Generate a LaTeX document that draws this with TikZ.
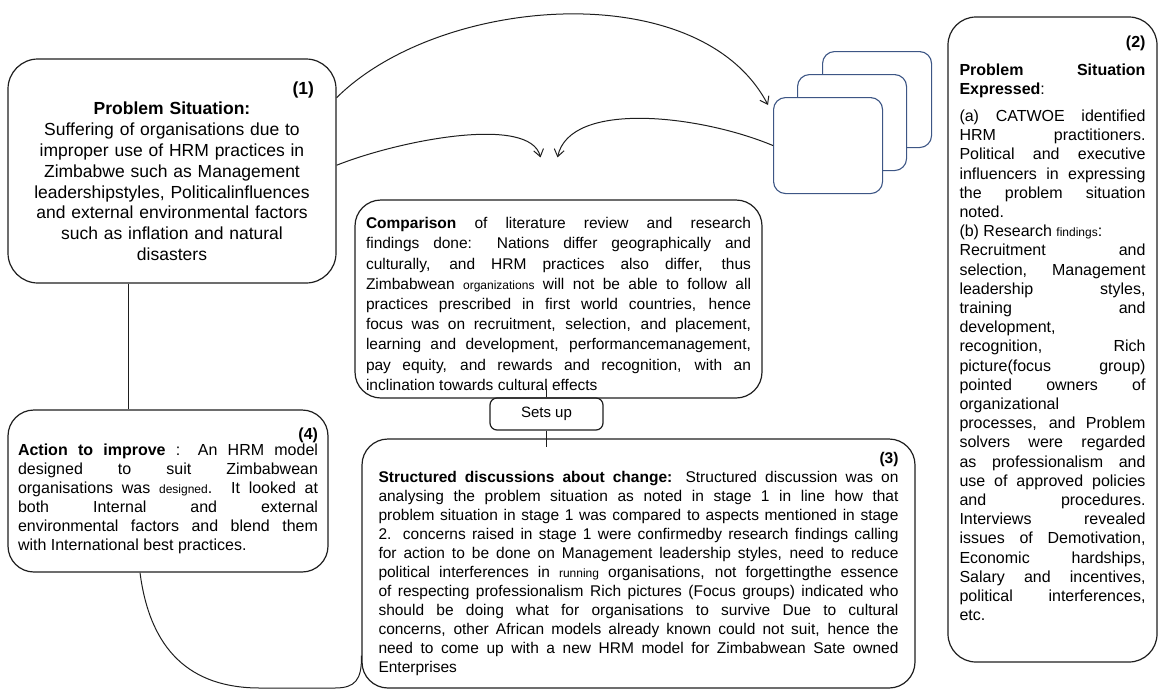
\documentclass[tikz,border=0pt]{standalone}
\usepackage{fontspec}
\setmainfont{Liberation Sans}
\usetikzlibrary{arrows.meta,calc}

\definecolor{cardblue}{RGB}{61,86,133}
\definecolor{inkgray}{RGB}{30,30,30}
\newcommand{\smw}[1]{{\fontsize{12}{12}\selectfont #1}}
\newcommand{\lb}{\linebreak}
\newcommand{\stagenum}[1]{\makebox[\linewidth][r]{\textbf{#1}}}
\tolerance=10000
\hbadness=10000
\hyphenpenalty=10000

\tikzset{
    stagebox/.style={draw=inkgray, line width=1.2pt, rounded corners=26pt, align=justify, inner sep=0pt},
    card/.style={draw=cardblue, line width=1.1pt, fill=white, rounded corners=12pt, minimum width=109pt, minimum height=96pt, anchor=north west},
    link/.style={draw=inkgray, line width=1pt},
    >={Straight Barb[length=7pt,width=10pt]}
}

\begin{document}
\begin{tikzpicture}[x=1pt,y=-1pt]
        \useasboundingbox (0,0) rectangle (1159,691);
        \node[stagebox, align=center, rounded corners=30pt, minimum width=328pt, minimum height=224pt, text width=284pt, font=\fontsize{17.5}{20.8}\selectfont] (prob) at (172,171)
            {\stagenum{(1)}\\ \textbf{Problem Situation:}\\ Suffering of organisations due to\\ improper use of HRM practices in\\ Zimbabwe such as Management\\ leadershipstyles, Politicalinfluences\\ and external environmental factors\\ such as inflation and natural\\ disasters};
        \node[stagebox, rounded corners=28pt, minimum width=209pt, minimum height=645pt, text width=186pt, font=\fontsize{16}{19.2}\selectfont] (expr) at (1052.5,339.5)
            {\stagenum{(2)}\\[8pt] \textbf{Problem Situation}\lb \textbf{Expressed}:\\[8pt]
            (a) CATWOE identified\lb HRM practitioners.\lb Political and executive\lb influencers in expressing\lb the problem situation\lb noted.\\
            (b) Research \smw{findings}:\\
            Recruitment and\lb selection, Management\lb leadership styles,\lb training and\lb development,\lb recognition, Rich\lb picture(focus group)\lb pointed owners of\lb organizational\lb processes, and Problem\lb solvers were regarded\lb as professionalism and\lb use of approved policies\lb and procedures.\lb Interviews revealed\lb issues of Demotivation,\lb Economic hardships,\lb Salary and incentives,\lb political interferences,\lb etc.\rule[-22pt]{0pt}{0pt}};
        \node[stagebox, minimum width=407pt, minimum height=198pt, text width=385pt, font=\fontsize{15.5}{20.2}\selectfont] (cmp) at (558.5,299)
            {\rule{0pt}{21pt}\textbf{Comparison} of literature review and research\lb findings done: Nations differ geographically and\lb culturally, and HRM practices also differ, thus\lb Zimbabwean \smw{organizations} will not be able to follow all\lb practices prescribed in first world countries, hence\lb focus was on recruitment, selection, and placement,\lb learning and development, performancemanagement,\lb pay equity, and rewards and recognition, with an\lb inclination towards cultural effects};
        \node[stagebox, rounded corners=7pt, minimum width=113pt, minimum height=32pt, align=center, font=\fontsize{15}{18}\selectfont] (setsup) at (546.5,414) {Sets up};
        \node[stagebox, minimum width=553pt, minimum height=249pt, text width=520pt, font=\fontsize{15.5}{19}\selectfont] (disc) at (638.5,563.5)
            {\stagenum{(3)}\\ \textbf{Structured discussions about change:} Structured discussion was on\lb analysing the problem situation as noted in stage 1 in line how that\lb problem situation in stage 1 was compared to aspects mentioned in stage\lb 2. concerns raised in stage 1 were confirmedby research findings calling\lb for action to be done on Management leadership styles, need to reduce\lb political interferences in \smw{running} organisations, not forgettingthe essence\lb of respecting professionalism Rich pictures (Focus groups) indicated who\lb should be doing what for organisations to survive Due to cultural\lb concerns, other African models already known could not suit, hence the\lb need to come up with a new HRM model for Zimbabwean Sate owned\lb Enterprises};
        \node[stagebox, minimum width=320pt, minimum height=162pt, text width=300pt, font=\fontsize{16}{19}\selectfont] (act) at (168,491)
            {\stagenum{(4)}\\[-3pt] \textbf{Action to improve} : An HRM model\lb designed to suit Zimbabwean\lb organisations was \smw{designed}. It looked at\lb both Internal and external\lb environmental factors and blend them\lb with International best practices.};
        \node[card] (back) at (822,51) {};
        \node[card] (mid) at (797,74) {};
        \node[card] (front) at (773,97) {};
        \draw[link,->] (prob.24) .. controls (440,-5) and (700,-25) .. ($(front.north west)+(-5,8)$);
        \draw[link,->] (prob.2) .. controls (400,140) and (530,115) .. ($(cmp.north)+(-18,-42)$);
        \draw[link,->] (front.west) .. controls (700,115) and (570,100) .. ($(cmp.north)+(-1,-42)$);
        \draw[link] ([xshift=-44pt]prob.south) -- ([xshift=-44pt]prob.south |- act.north);
        \draw[link] (setsup.north) -- ([yshift=13pt]cmp.south -| setsup.north);
        \draw[link] (setsup.south) -- ([yshift=-9pt]disc.north -| setsup.south);
        \draw[link] ([xshift=-28pt]act.south) .. controls (150,650) and (190,688) .. (260,688) -- (335,688) .. controls (355,688) and (362,680) .. ([yshift=33pt]disc.south west);
    \end{tikzpicture}
\end{document}
